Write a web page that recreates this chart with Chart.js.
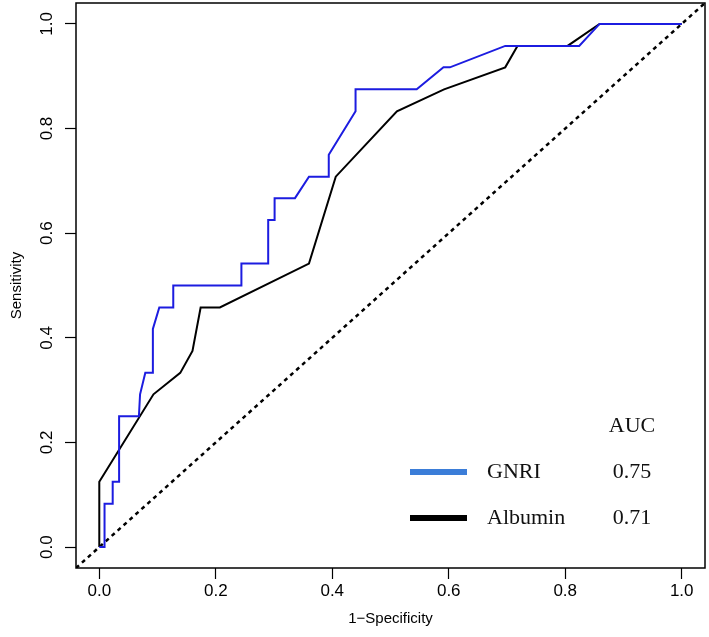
<!DOCTYPE html>
<html>
<head>
<meta charset="utf-8">
<title>ROC GNRI vs Albumin</title>
<style>
  body { margin: 0; background: #fff; }
  canvas { display: block; }
</style>
<script src="https://cdn.jsdelivr.net/npm/chart.js@4"></script>
</head>
<body>
<canvas id="roc" width="709" height="637"></canvas>
<script>
// ROC points (1-specificity, sensitivity)
const gnriFpr = [0, 0.009, 0.009, 0.023, 0.023, 0.034, 0.034, 0.068, 0.070, 0.079,
  0.092, 0.092, 0.103, 0.127, 0.127, 0.244, 0.244, 0.290, 0.290, 0.301,
  0.301, 0.336, 0.360, 0.394, 0.394, 0.440, 0.440, 0.545, 0.591, 0.602,
  0.697, 0.824, 0.859, 1.0];
const gnriTpr = [0, 0, 0.083, 0.083, 0.125, 0.125, 0.25, 0.25, 0.292, 0.333,
  0.333, 0.417, 0.458, 0.458, 0.5, 0.5, 0.542, 0.542, 0.625, 0.625,
  0.667, 0.667, 0.708, 0.708, 0.75, 0.833, 0.875, 0.875, 0.917, 0.917,
  0.958, 0.958, 1.0, 1.0];

const albFpr = [0, 0, 0.093, 0.139, 0.160, 0.174, 0.207, 0.360, 0.406, 0.511,
  0.592, 0.697, 0.718, 0.804, 0.859, 1.0];
const albTpr = [0, 0.125, 0.292, 0.333, 0.375, 0.458, 0.458, 0.542, 0.708, 0.833,
  0.875, 0.917, 0.958, 0.958, 1.0, 1.0];

// chance line, runs corner to corner of the (padded) plot region
const diagVals = [-0.04, 1.04];

const seriesNames = ['GNRI', 'Albumin'];
const aucValues = ['0.75', '0.71'];
const xTicks = [0, 0.2, 0.4, 0.6, 0.8, 1.0];
const yTicks = [0, 0.2, 0.4, 0.6, 0.8, 1.0];
const xTickLabels = ['0.0', '0.2', '0.4', '0.6', '0.8', '1.0'];
const yTickLabels = ['0.0', '0.2', '0.4', '0.6', '0.8', '1.0'];
const xTitle = '1\u2212Specificity';
const yTitle = 'Sensitivity';

const toPoints = (xs, ys) => xs.map((v, i) => ({ x: v, y: ys[i] }));

const SANS = '"Liberation Sans", Arial, Helvetica, sans-serif';
const SERIF = '"Liberation Serif", "Times New Roman", serif';

// frame, rotated y labels, axis titles and the AUC legend box
const framePlugin = {
  id: 'frame',
  afterDraw(chart) {
    const { ctx, chartArea: a, scales: { x, y } } = chart;
    ctx.save();
    ctx.strokeStyle = '#000';
    ctx.lineWidth = 1.5;
    ctx.strokeRect(a.left, a.top, a.right - a.left, a.bottom - a.top);

    ctx.fillStyle = '#000';
    ctx.textAlign = 'center';
    ctx.textBaseline = 'middle';
    ctx.font = '17px ' + SANS;
    x.ticks.forEach((t, i) => {
      ctx.fillText(xTickLabels[i], x.getPixelForValue(t.value), a.bottom + 23);
    });
    y.ticks.forEach((t, i) => {
      ctx.save();
      ctx.translate(a.left - 29, y.getPixelForValue(t.value));
      ctx.rotate(-Math.PI / 2);
      ctx.fillText(yTickLabels[i], 0, 0);
      ctx.restore();
    });

    ctx.font = '15px ' + SANS;
    ctx.fillText(xTitle, (a.left + a.right) / 2, a.bottom + 51);
    ctx.save();
    ctx.translate(a.left - 59, (a.top + a.bottom) / 2);
    ctx.rotate(-Math.PI / 2);
    ctx.fillText(yTitle, 0, 0);
    ctx.restore();

    // legend with AUC column
    const legendColors = ['#3b7dd8', '#000000'];
    const colX = a.right - 73;
    ctx.fillStyle = '#111';
    ctx.font = '22px ' + SERIF;
    ctx.fillText('AUC', colX, a.bottom - 142);
    seriesNames.forEach((name, i) => {
      const ly = a.bottom - 96 + i * 46;
      ctx.strokeStyle = legendColors[i];
      ctx.lineWidth = 6;
      ctx.beginPath();
      ctx.moveTo(a.right - 295, ly);
      ctx.lineTo(a.right - 238, ly);
      ctx.stroke();
      ctx.textAlign = 'left';
      ctx.fillText(name, a.right - 218, ly);
      ctx.textAlign = 'center';
      ctx.fillText(aucValues[i], colX, ly);
    });
    ctx.restore();
  }
};

const axisCommon = {
  type: 'linear',
  min: -0.04,
  max: 1.04,
  grid: { drawOnChartArea: false, drawTicks: true, tickLength: 11, tickColor: '#000', tickWidth: 1.2 },
  border: { display: false },
  ticks: { display: false }
};

new Chart(document.getElementById('roc'), {
  type: 'scatter',
  data: {
    datasets: [
      {
        label: seriesNames[0],
        data: toPoints(gnriFpr, gnriTpr),
        showLine: true,
        borderColor: '#1c1ce0',
        borderWidth: 2,
        pointRadius: 0,
        tension: 0
      },
      {
        label: seriesNames[1],
        data: toPoints(albFpr, albTpr),
        showLine: true,
        borderColor: '#000',
        borderWidth: 2,
        pointRadius: 0,
        tension: 0
      },
      {
        label: 'reference',
        data: toPoints(diagVals, diagVals),
        showLine: true,
        borderColor: '#000',
        borderWidth: 2.5,
        borderDash: [4, 4],
        pointRadius: 0
      }
    ]
  },
  options: {
    responsive: false,
    animation: false,
    devicePixelRatio: 1,
    layout: { padding: { left: 0, right: 4, top: 3, bottom: 0 } },
    plugins: { legend: { display: false }, tooltip: { enabled: false } },
    scales: {
      x: {
        ...axisCommon,
        position: 'bottom',
        afterBuildTicks: s => { s.ticks = xTicks.map(v => ({ value: v })); },
        afterFit: s => { s.height = 69; }
      },
      y: {
        ...axisCommon,
        position: 'left',
        afterBuildTicks: s => { s.ticks = yTicks.map(v => ({ value: v })); },
        afterFit: s => { s.width = 76; }
      }
    }
  },
  plugins: [framePlugin]
});
</script>
</body>
</html>
